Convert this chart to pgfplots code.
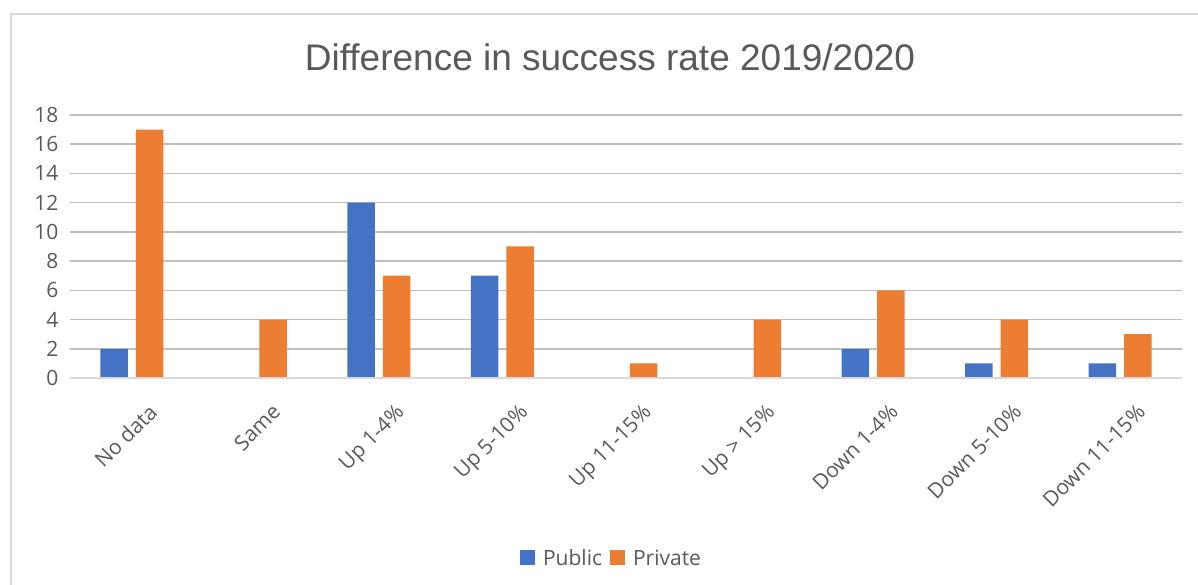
\documentclass[border=0pt]{standalone}
\usepackage{pgfplots}
\pgfplotsset{compat=1.18}
\usepackage{fontspec}
\setmainfont{Open Sans}
\newfontfamily\titlefont{Liberation Sans}
\definecolor{pub}{HTML}{4472C4}
\definecolor{pri}{HTML}{ED7D31}
\definecolor{txt}{HTML}{595959}
\definecolor{grid}{HTML}{D9D9D9}
\begin{document}
\begin{tikzpicture}[x=1pt,y=1pt]
\useasboundingbox (0,0) rectangle (1198,585);
\draw[grid, line width=1.5pt] (11,0) -- (11,571) -- (1198,571);
\node[font=\titlefont\fontsize{37}{42}\selectfont, text=txt] at (610,528) {Difference in success rate 2019/2020};
\begin{axis}[
  at={(70pt,207pt)}, anchor=south west,
  scale only axis, width=1112pt, height=263pt,
  ymin=0, ymax=18, ytick={0,2,...,18},
  xmin=-0.5, xmax=8.5,
  xtick={0,...,8},
  xticklabels={No data,Same,Up 1-4\%,Up 5-10\%,Up 11-15\%,Up > 15\%,Down 1-4\%,Down 5-10\%,Down 11-15\%},
  x tick label style={rotate=45, anchor=north east, font=\fontsize{21}{24}\selectfont, text=txt, xshift=-3pt, yshift=-25pt},
  y tick label style={font=\fontsize{21}{24}\selectfont, text=txt, xshift=-8pt},
  /pgf/number format/assume math mode=true,
  xmajorgrids=false, ymajorgrids=true, grid style={grid, line width=1.5pt},
  axis line style={draw=none},
  tick style={draw=none},
  major tick length=0pt,
  ybar, bar width=27.5pt,
  legend style={at={(0.487,-0.685)}, anchor=center, draw=none, legend columns=2, font=\fontsize{21}{24}\selectfont, text=txt,
    /tikz/every odd column/.append style={column sep=6pt},
    /tikz/every even column/.append style={column sep=6pt}},
  legend image code/.code={\fill[#1] (0pt,-7pt) rectangle (15pt,8pt);},
  clip=false,
]
\addplot[draw=none, fill=pub, bar shift=-17.75pt] coordinates {(0,2) (1,0) (2,12) (3,7) (4,0) (5,0) (6,2) (7,1) (8,1)};
\addplot[draw=none, fill=pri, bar shift=17.75pt] coordinates {(0,17) (1,4) (2,7) (3,9) (4,1) (5,4) (6,6) (7,4) (8,3)};
\legend{Public,Private}
\draw[grid, line width=1.5pt] (axis cs:-0.5,0) -- (axis cs:8.5,0);
\end{axis}
\end{tikzpicture}
\end{document}
